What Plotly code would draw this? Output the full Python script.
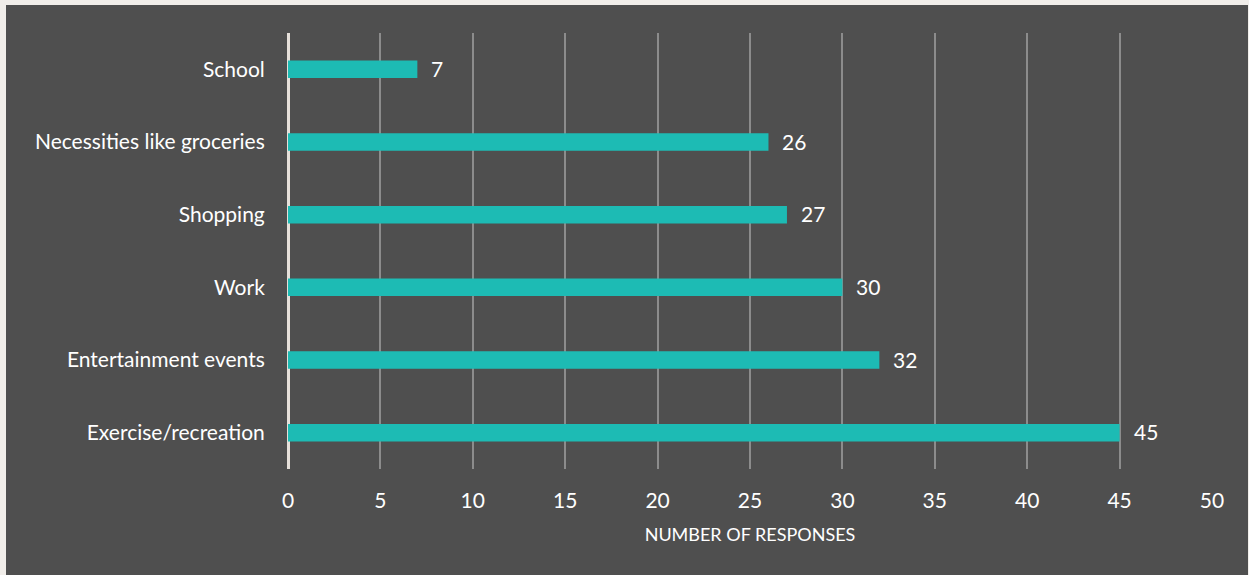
import plotly.graph_objects as go

categories = ["Exercise/recreation", "Entertainment events", "Work", "Shopping",
              "Necessities like groceries", "School"]
responses = [45, 32, 30, 27, 26, 7]
x_ticks = [0, 5, 10, 15, 20, 25, 30, 35, 40, 45, 50]

W, H = 1249, 575
L, R, T, B = 288, 37, 33, 106
pw, ph = W - L - R, H - T - B

def px_x(p):
    return (p - L) / pw

def px_y(p):
    return (H - B - p) / ph

font_family = "Lato, 'Open Sans', sans-serif"
label_size = 21

fig = go.Figure(go.Bar(
    x=responses,
    y=categories,
    orientation="h",
    width=0.24,
    marker=dict(color="#1dbbb4", line=dict(width=0)),
    hoverinfo="x+y",
))

# value labels to the right of each bar
annotations = [
    dict(x=v, y=c, xref="x", yref="y", text=str(v), showarrow=False,
         xanchor="left", yanchor="middle", xshift=12, yshift=1,
         font=dict(size=label_size, color="#ffffff", family=font_family))
    for c, v in zip(categories, responses)
]

fig.update_layout(
    width=W, height=H,
    margin=dict(l=L, r=R, t=T, b=B, pad=0),
    paper_bgcolor="#f1eeea",
    plot_bgcolor="rgba(0,0,0,0)",
    showlegend=False,
    font=dict(family=font_family, color="#ffffff", size=label_size),
    annotations=annotations,
    shapes=[dict(
        type="rect", xref="paper", yref="paper", layer="below",
        x0=px_x(6), x1=px_x(1248), y0=px_y(5), y1=px_y(580),
        fillcolor="#4f4f4f", line=dict(width=0),
    )],
    xaxis=dict(
        range=[0, 50],
        tickvals=x_ticks,
        showgrid=True, gridcolor="#8c8c8c", gridwidth=2,
        zeroline=True, zerolinecolor="#e6e0da", zerolinewidth=3,
        showline=False,
        ticks="outside", ticklen=13, tickcolor="rgba(0,0,0,0)",
        tickfont=dict(size=label_size, color="#ffffff"),
        title=dict(text="NUMBER OF RESPONSES", font=dict(size=18, color="#ffffff"), standoff=17),
        fixedrange=True,
    ),
    yaxis=dict(
        showgrid=False, zeroline=False, showline=False,
        ticks="outside", ticklen=18, tickcolor="rgba(0,0,0,0)",
        tickfont=dict(size=label_size, color="#ffffff"),
        range=[-0.5, 5.5],
        fixedrange=True,
    ),
)

fig.write_html("out.html")
